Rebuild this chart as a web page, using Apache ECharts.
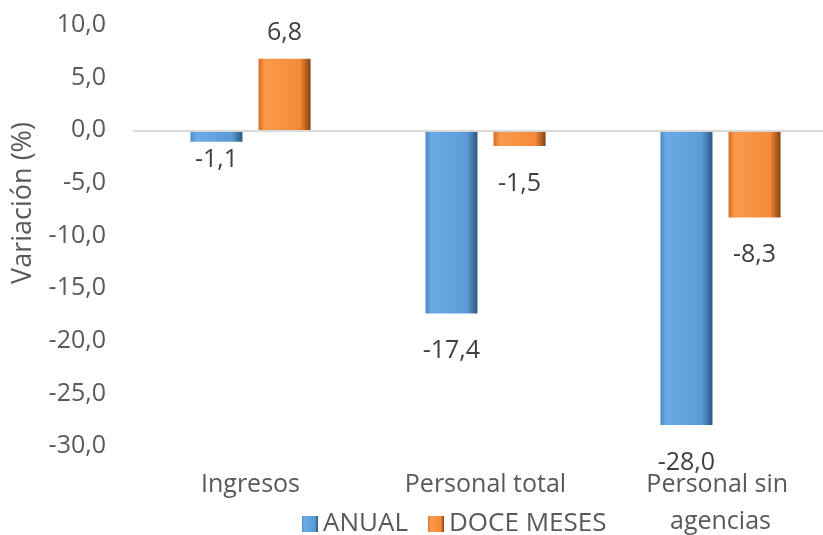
<!DOCTYPE html>
<html><head><meta charset="utf-8">
<script src="https://cdn.jsdelivr.net/npm/echarts@6/dist/echarts.min.js"></script>
<style>html,body{margin:0;padding:0;background:#fff}#c{width:823px;height:535px}</style>
</head><body><div id="c"></div>
<script>
const categories = ['Ingresos', 'Personal total', 'Personal sin agencias'];
const anual = [-1.1, -17.4, -28.0];
const doceMeses = [6.8, -1.5, -8.3];
const seriesNames = ['ANUAL', 'DOCE MESES'];
const yTitle = 'Variación (%)';

const fmt = v => v.toFixed(1).replace('.', ',');
const font = '"Open Sans", sans-serif';
function grad(c0, c1, c2, c3) {
  return {type: 'linear', x: 0, y: 0, x2: 1, y2: 0,
    colorStops: [{offset: 0, color: c0}, {offset: 0.12, color: c1}, {offset: 0.8, color: c2}, {offset: 1, color: c3}]};
}
const blue = grad('#4c8cca', '#6aaae6', '#5b9bd5', '#2a5680');
const orange = grad('#d9691c', '#fb9a4c', '#f58a3a', '#84400f');
// label distance overrides (style only)
const distOverride = {'0-0': 6};
function items(vals, s) {
  return vals.map((v, i) => {
    const d = distOverride[s + '-' + i];
    return {value: v, label: {position: v < 0 ? 'bottom' : 'top',
      distance: d !== undefined ? d : (v < 0 ? 25 : 13)}};
  });
}
const labelCfg = {show: true, color: '#404040', fontSize: 25, fontFamily: font,
  formatter: p => fmt(p.value)};
const chart = echarts.init(document.getElementById('c'));
chart.setOption({
  animation: false,
  grid: {left: 133, top: 25, width: 705, bottom: 89, outerBoundsMode: 'none', containLabel: false},
  legend: {top: 506, left: 297, itemWidth: 16, itemHeight: 16, itemGap: 20,
    textStyle: {color: '#595959', fontSize: 26, fontFamily: font},
    data: [{name: seriesNames[0], icon: 'rect'}, {name: seriesNames[1], icon: 'rect'}]},
  graphic: [{type: 'text', x: 23, y: 203, rotation: Math.PI / 2,
    style: {text: yTitle, fill: '#595959', font: '27px ' + font, textAlign: 'center', textVerticalAlign: 'middle'}}],
  xAxis: {type: 'category', data: categories,
    axisLine: {show: false}, axisTick: {show: false},
    axisLabel: {color: '#595959', fontSize: 25, fontFamily: font, margin: 20, interval: 0,
      width: 175, overflow: 'break', lineHeight: 37}},
  yAxis: {type: 'value', min: -30, max: 10, interval: 5,
    axisLine: {show: false}, axisTick: {show: false}, splitLine: {show: false},
    axisLabel: {color: '#595959', fontSize: 25, fontFamily: font, margin: 27, formatter: fmt,
      padding: [7, 0, 0, 0]}},
  series: [
    {name: seriesNames[0], type: 'bar', data: items(anual, 0), barWidth: 52, barGap: '31%',
      itemStyle: {color: blue}, label: labelCfg,
      markLine: {silent: true, symbol: 'none', label: {show: false},
        lineStyle: {color: '#d9d9d9', width: 2, type: 'solid'}, data: [{yAxis: 0}]}},
    {name: seriesNames[1], type: 'bar', data: items(doceMeses, 1), barWidth: 52,
      itemStyle: {color: orange}, label: labelCfg}
  ]
});
</script></body></html>
